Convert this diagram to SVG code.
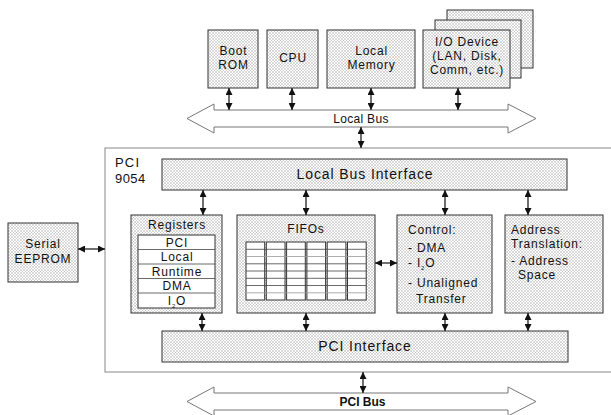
<svg xmlns="http://www.w3.org/2000/svg" width="611" height="415" viewBox="0 0 611 415">
<style>
text{font-family:"Liberation Sans",Arial,sans-serif;fill:#111;}
.t12{font-size:12px;letter-spacing:0.8px;}
.t14{font-size:14px;letter-spacing:0.9px;}
.mid{text-anchor:middle;}
.box{fill:url(#hatch);stroke:#333;stroke-width:1;}
.wbox{fill:#fff;stroke:#333;stroke-width:1;}
.bus{fill:#fff;stroke:#777;stroke-width:1;}
.conn{stroke:#222;stroke-width:1.3;fill:none;marker-start:url(#ah);marker-end:url(#ah);}
.grid{stroke:#444;stroke-width:0.8;}
.gridg{stroke:#999;stroke-width:0.8;}
</style>
<defs>
<pattern id="hatch" width="3" height="3" patternUnits="userSpaceOnUse">
<rect width="3" height="3" fill="#fff"/>
<path d="M0,0 L3,3 M3,0 L0,3" stroke="#b4b4b4" stroke-width="0.5"/>
</pattern>
<marker id="ah" viewBox="0 0 8 8" refX="8" refY="4" markerWidth="7" markerHeight="7" markerUnits="userSpaceOnUse" orient="auto-start-reverse">
<path d="M0,0 L8,4 L0,8 Z" fill="#111"/>
</marker>
</defs>

<g id="chip">
<rect x="105" y="148" width="520" height="224" fill="#fff" stroke="#888" stroke-width="1"/>
<text x="115" y="167" style="font-size:13px;letter-spacing:1.2px">PCI</text>
<text x="115" y="183" style="font-size:13px;letter-spacing:0.4px">9054</text>
</g>

<g id="local-bus">
<path class="bus" d="M187,118.5 L214,104 L214,110 L508,110 L508,104 L536,118.5 L508,133 L508,127 L214,127 L214,133 Z"/>
<text class="t12 mid" x="361" y="122.5" style="letter-spacing:0.3px">Local Bus</text>
</g>

<g id="pci-bus">
<path class="bus" d="M187,401.5 L214,387 L214,393 L508,393 L508,387 L536,401.5 L508,416 L508,410 L214,410 L214,416 Z"/>
<text class="mid" x="362.5" y="406" style="font-size:12px;font-weight:bold">PCI Bus</text>
</g>

<g id="boot-rom">
<rect class="box" x="208" y="30" width="50" height="58"/>
<text class="t12 mid" x="233.5" y="55">Boot</text>
<text class="t12 mid" x="233.5" y="69">ROM</text>
</g>

<g id="cpu">
<rect class="box" x="267" y="30" width="51" height="58"/>
<text class="t12 mid" x="293" y="62">CPU</text>
</g>

<g id="local-memory">
<rect class="box" x="327" y="30" width="88" height="58"/>
<text class="t12 mid" x="371.5" y="55">Local</text>
<text class="t12 mid" x="371.5" y="69">Memory</text>
</g>

<g id="io-device">
<rect class="box" x="447" y="10" width="86" height="58"/>
<rect class="box" x="435" y="20" width="86" height="58"/>
<rect class="box" x="423" y="30" width="87" height="58"/>
<text class="t12 mid" x="467" y="46">I/O Device</text>
<text class="t12 mid" x="467" y="60">(LAN, Disk,</text>
<text class="t12 mid" x="467" y="74">Comm, etc.)</text>
</g>

<g id="local-bus-interface">
<rect class="box" x="162" y="159" width="405" height="31"/>
<text class="t14 mid" x="365" y="179">Local Bus Interface</text>
</g>

<g id="registers">
<rect class="box" x="131" y="215" width="91" height="98"/>
<text class="t12 mid" x="177" y="229">Registers</text>
<rect class="wbox" x="138" y="235" width="77" height="73"/>
<path class="grid" d="M138,249.5 H215 M138,264 H215 M138,278.5 H215 M138,293 H215"/>
<text class="t12 mid" x="177" y="246.5">PCI</text>
<text class="t12 mid" x="177" y="261">Local</text>
<text class="t12 mid" x="177" y="275.5">Runtime</text>
<text class="t12 mid" x="177" y="290">DMA</text>
<text class="t12 mid" x="177" y="304.5">I<tspan style="font-size:6px" dy="3">2</tspan><tspan dy="-3">O</tspan></text>
</g>

<g id="fifos">
<rect class="box" x="237" y="215" width="138" height="98"/>
<text class="t12 mid" x="306" y="233">FIFOs</text>
<rect class="wbox" x="246" y="242" width="18.7" height="58" stroke-width="0.8"/>
<rect class="wbox" x="266.3" y="242" width="18.7" height="58" stroke-width="0.8"/>
<rect class="wbox" x="286.6" y="242" width="18.7" height="58" stroke-width="0.8"/>
<rect class="wbox" x="306.9" y="242" width="18.7" height="58" stroke-width="0.8"/>
<rect class="wbox" x="327.2" y="242" width="18.7" height="58" stroke-width="0.8"/>
<rect class="wbox" x="347.5" y="242" width="18.7" height="58" stroke-width="0.8"/>
<path class="grid" d="M246,249.3 H366.2 M246,263.8 H366.2 M246,271 H366.2 M246,278.3 H366.2 M246,285.5 H366.2"/>
<path class="gridg" d="M246,256.5 H366.2 M246,292.8 H366.2"/>
</g>

<g id="control">
<rect class="box" x="397" y="215" width="95" height="98"/>
<text class="t12" x="408" y="234">Control:</text>
<text class="t12" x="408" y="252">- DMA</text>
<text class="t12" x="408" y="267">- I<tspan style="font-size:6px" dy="3">2</tspan><tspan dy="-3">O</tspan></text>
<text class="t12" x="408" y="287">- Unaligned</text>
<text class="t12" x="416" y="303">Transfer</text>
</g>

<g id="address-translation">
<rect class="box" x="505" y="215" width="98" height="98"/>
<text class="t12" x="511" y="234">Address</text>
<text class="t12" x="511" y="248">Translation:</text>
<text class="t12" x="511" y="265">- Address</text>
<text class="t12" x="518" y="279">Space</text>
</g>

<g id="pci-interface">
<rect class="box" x="162" y="331" width="406" height="31"/>
<text class="t14 mid" x="365" y="351">PCI Interface</text>
</g>

<g id="serial-eeprom">
<rect class="box" x="8" y="223" width="70" height="59"/>
<text class="t12 mid" x="43" y="248">Serial</text>
<text class="t12 mid" x="43" y="263">EEPROM</text>
</g>

<g id="connectors">
<path class="conn" d="M229,88 V110"/>
<path class="conn" d="M292,88 V110"/>
<path class="conn" d="M371,88 V110"/>
<path class="conn" d="M458,88 V110"/>
<path class="conn" d="M361,127 V148"/>
<path class="conn" d="M203,190 V215"/>
<path class="conn" d="M306,190 V215"/>
<path class="conn" d="M445,190 V215"/>
<path class="conn" d="M528,190 V215"/>
<path class="conn" d="M375,263 H397"/>
<path class="conn" d="M78,249 H105"/>
<path class="conn" d="M202,313 V331"/>
<path class="conn" d="M306,313 V331"/>
<path class="conn" d="M445,313 V331"/>
<path class="conn" d="M528,313 V331"/>
<path class="conn" d="M363,372 V393"/>
</g>
</svg>
